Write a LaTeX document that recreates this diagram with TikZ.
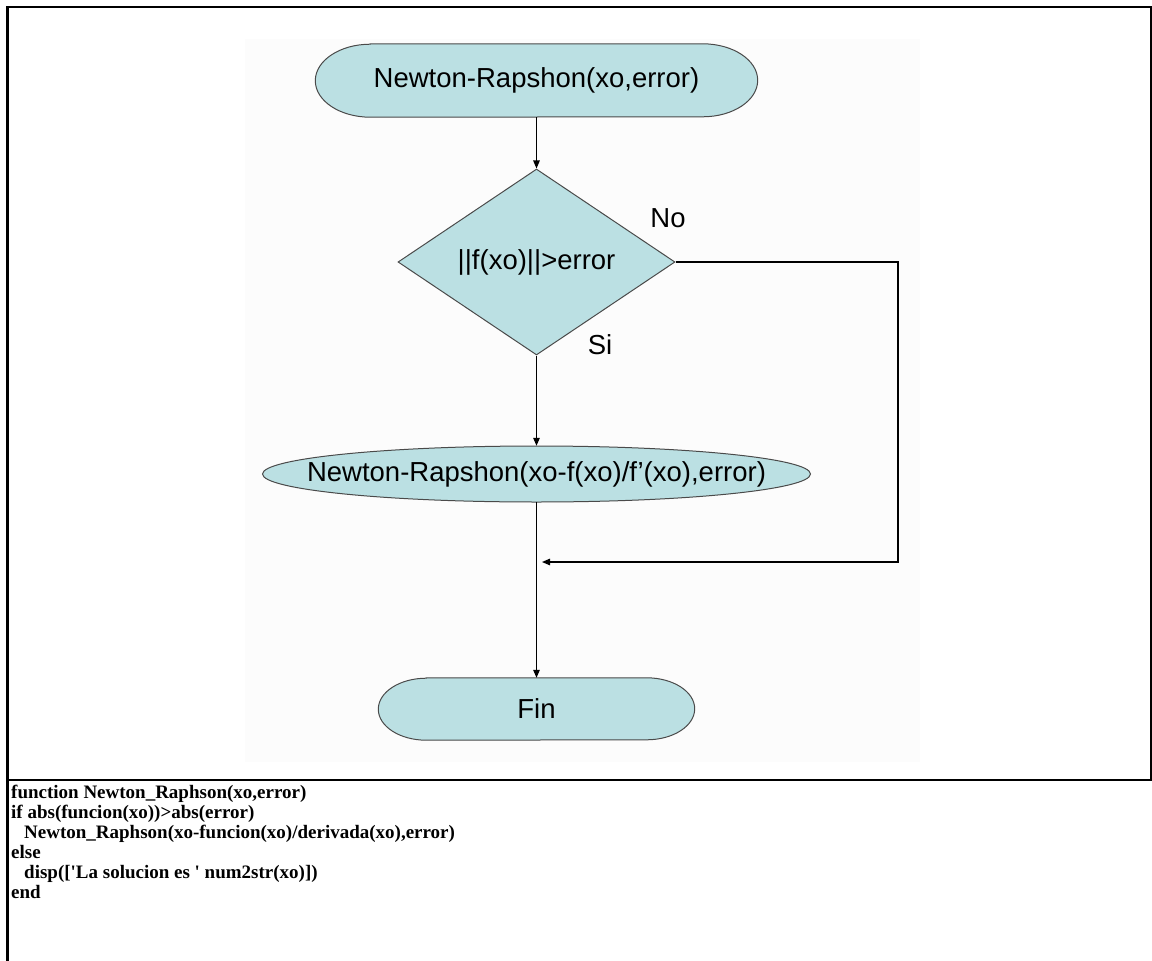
\documentclass[tikz,border=0pt]{standalone}
\usepackage{fontspec}
\setmainfont{Liberation Sans}
\newfontfamily\codefont{Liberation Serif}
\usetikzlibrary{arrows.meta,shapes.geometric,backgrounds,calc}

\definecolor{boxfill}{HTML}{BBE0E3}
\definecolor{boxline}{HTML}{4A4A4A}
\definecolor{paper}{HTML}{FCFCFC}

\tikzset{
  lbl/.style={font=\fontsize{27.5}{30}\selectfont, inner sep=0pt},
  holder/.style={lbl, rectangle, minimum width=#1},
  decision/.style={lbl, diamond, draw=boxline, line width=1pt, fill=boxfill},
  shapeline/.style={draw=boxline, line width=1pt, fill=boxfill},
  conn/.style={line width=1.2pt, -{Triangle[length=8pt,width=6.5pt]}},
  frame/.style={line width=2.4pt, line cap=rect},
  codeline/.style={font=\codefont\bfseries\fontsize{19}{20}\selectfont,
                   inner sep=0pt, anchor=base west},
}

% terminator outline drawn around a node: name, end x radius, end y radius
\newcommand\terminatorpath[3]{%
  \path[shapeline] ($(#1.north west)+(#2,0pt)$) -- ($(#1.north east)+(-#2,0pt)$)
    arc[start angle=90, end angle=-90, x radius=#2, y radius=#3]
    -- ($(#1.south west)+(#2,0pt)$)
    arc[start angle=270, end angle=90, x radius=#2, y radius=#3] -- cycle;}

\begin{document}
\begin{tikzpicture}[x=1pt, y=-1pt]
  \useasboundingbox (0,0) rectangle (1152,961);

  % flowchart nodes
  \node[holder=442pt, minimum height=73pt] (start) at (536.5,80.5) {Newton-Rapshon(xo,error)};
  \node[decision, minimum width=277pt, minimum height=186pt] (dec) at (536.5,262) {||f(xo)||>error};
  \node[holder=548pt, minimum height=56pt] (mid) at (536.5,474) {Newton-Rapshon(xo-f(xo)/f’(xo),error)};
  \node[holder=316pt, minimum height=62pt] (fin) at (536.5,709) {Fin};

  \node[lbl] (lblno) at (668,218) {No};
  \node[lbl] (lblsi) at (600,345) {Si};

  \coordinate (turn) at (898,562);
  \coordinate (join) at (542,562);

  % shapes behind the texts
  \begin{scope}[on background layer]
    \fill[paper] (245,39) rectangle (920,762);
    \terminatorpath{start}{55pt}{36.5pt}
    \path[shapeline] (mid.center) ellipse [x radius=274pt, y radius=28pt];
    \terminatorpath{fin}{48pt}{31pt}
  \end{scope}

  % connectors
  \draw[conn] (start) -- (dec);
  \draw[conn] (dec) -- (mid);
  \draw[conn] (mid) -- (fin);
  \draw[conn] (dec.east) -| (turn) -- (join);

  % table frame
  \draw[frame] (7.5,961) -- (7.5,7) -- (1152,7);
  \draw[line width=2pt] (1151,7) -- (1151,780);
  \draw[line width=2.2pt] (7.5,780) -- (1152,780);

  % code listing
  \node[codeline] (code1) at (11,798) {function Newton\_Raphson(xo,error)};
  \node[codeline] (code2) at (11,818) {if abs(funcion(xo))>abs(error)};
  \node[codeline] (code3) at (24,838) {Newton\_Raphson(xo-funcion(xo)/derivada(xo),error)};
  \node[codeline] (code4) at (11,858) {else};
  \node[codeline] (code5) at (24,878) {disp([\textquotesingle La solucion es \textquotesingle\ num2str(xo)])};
  \node[codeline] (code6) at (11,898) {end};
\end{tikzpicture}
\end{document}
